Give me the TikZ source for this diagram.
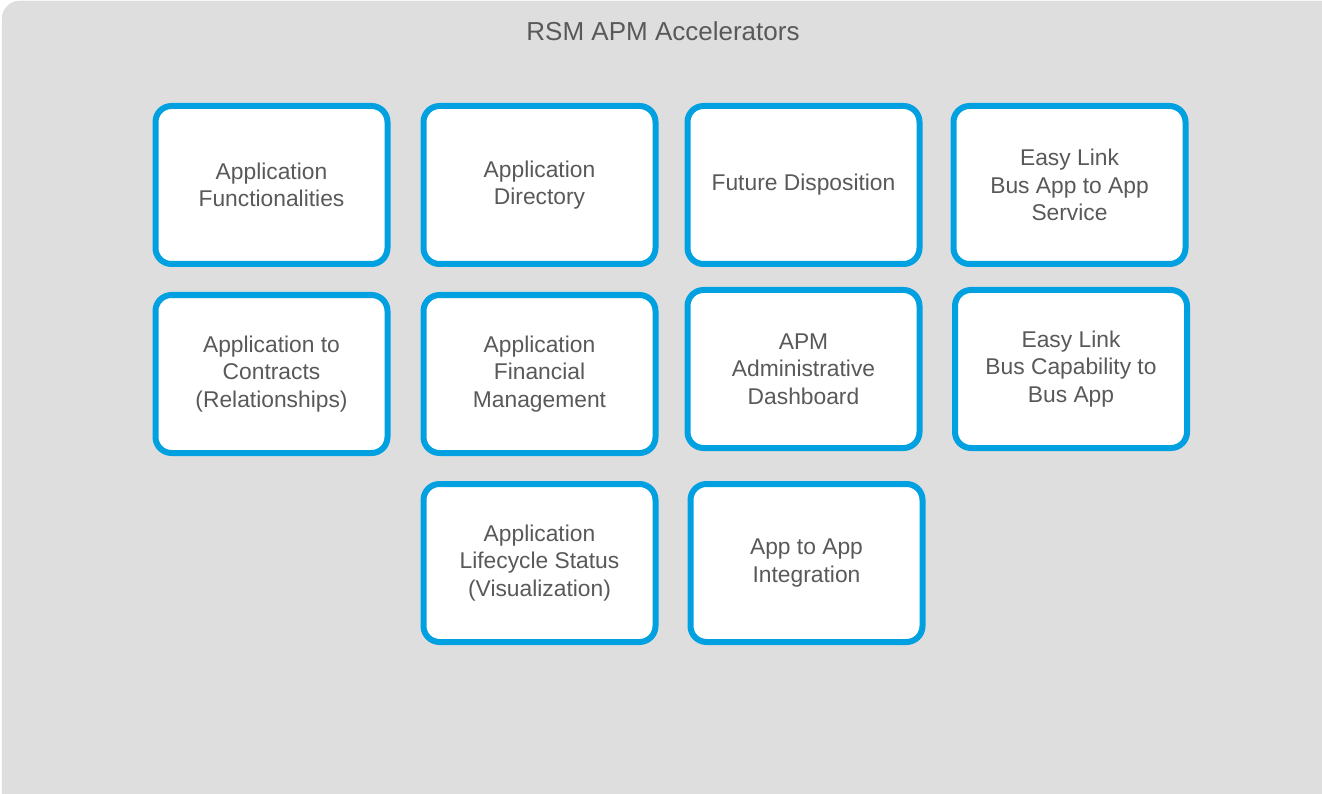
\documentclass[tikz,border=0pt]{standalone}
\usepackage{xcolor}
\usepackage{fontspec}
\setmainfont{Liberation Sans}
\usepackage{tikz}
\usetikzlibrary{positioning}
\definecolor{rsmblue}{RGB}{0, 160, 225}
\definecolor{panelgray}{RGB}{222, 222, 222}
\definecolor{textgray}{RGB}{89, 89, 89}
\tikzstyle{accel} = [rectangle, rounded corners=16pt, minimum width=232pt, minimum height=158pt,
                     align=center, draw=rsmblue, line width=6pt, fill=white, text=textgray,
                     font=\fontsize{22.8}{27.5}\selectfont]

\begin{document}
\begin{tikzpicture}[x=1pt, y=-1pt]
    % Panel
    \useasboundingbox (0,0) rectangle (1322,794);
    \fill[panelgray, draw=gray!30, rounded corners=18pt] (2,1) rectangle (1340,812);
    \node[text=textgray, font=\fontsize{26}{30}\selectfont] (title) at (663,31) {RSM APM Accelerators};

    % First row
    \node[accel] (functionalities) at (271.5,185) {Application\\Functionalities};
    \node[accel, right=30pt of functionalities] (directory) {Application\\Directory};
    \node[accel, right=26pt of directory] (disposition) {Future Disposition};
    \node[accel, right=28pt of disposition] (busapp) {Easy Link\\Bus App to App\\Service};

    % Second row
    \node[accel, below=25pt of functionalities] (contracts) {Application to\\Contracts\\(Relationships)};
    \node[accel, below=25pt of directory] (financial) {Application\\Financial\\Management};
    \node[accel, below=20pt of disposition] (dashboard) {APM\\Administrative\\Dashboard};
    \node[accel, below=20pt of busapp, xshift=1.5pt] (capability) {Easy Link\\Bus Capability to\\Bus App};

    % Third row
    \node[accel, below=25pt of financial] (lifecycle) {Application\\Lifecycle Status\\(Visualization)};
    \node[accel, right=29pt of lifecycle] (integration) {App to App\\Integration};
\end{tikzpicture}
\end{document}
